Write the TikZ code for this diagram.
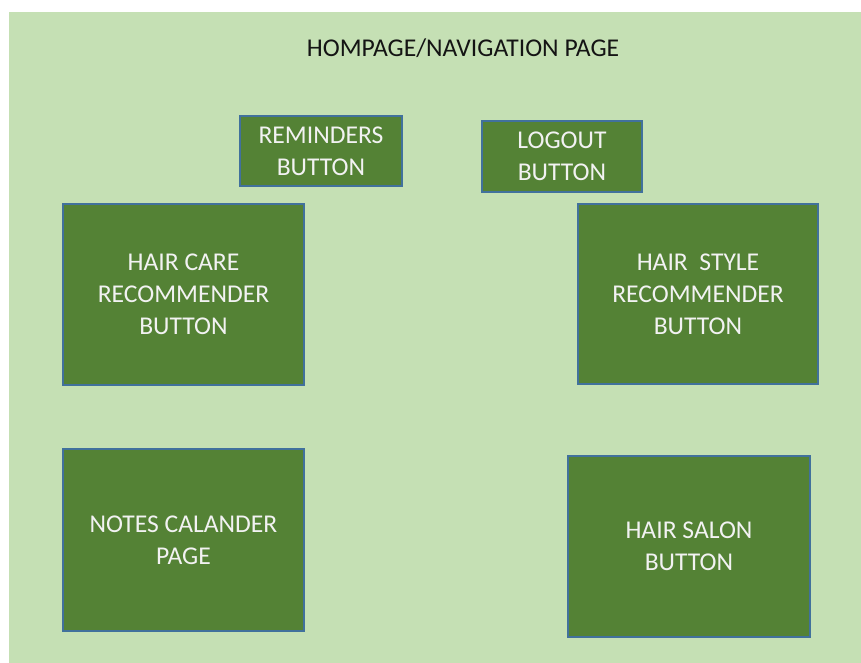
\documentclass[tikz,border=0pt]{standalone}
\usepackage{fontspec}
\setmainfont{Carlito}
\definecolor{bgc}{HTML}{C5E0B4}
\definecolor{btnc}{HTML}{548235}
\definecolor{edgec}{HTML}{41719C}
\definecolor{txtc}{HTML}{F2F2F2}
\definecolor{titlec}{HTML}{141414}
\tikzset{
  btnbox/.style={draw=edgec, line width=1.2pt, fill=btnc, text=txtc, align=center,
    font=\fontsize{25.6}{32}\selectfont, inner sep=0pt},
  titletext/.style={text=titlec, font=\fontsize{25.6}{32}\selectfont, inner sep=0pt}
}
\begin{document}
\begin{tikzpicture}[x=1pt,y=-1pt]
\useasboundingbox (0,0) rectangle (861,663);
\fill[bgc] (9,12) rectangle (861,663);
\node[titletext] (title) at (463,48.5) {HOMPAGE/NAVIGATION PAGE};
\node[btnbox, minimum width=162pt, minimum height=70pt] (rem) at (321,151) {REMINDERS\\BUTTON};
\node[btnbox, minimum width=160pt, minimum height=71pt] (logout) at (562,156.5) {LOGOUT\\BUTTON};
\node[btnbox, minimum width=241pt, minimum height=181pt] (care) at (183.5,294.5) {HAIR CARE\\RECOMMENDER\\BUTTON};
\node[btnbox, minimum width=240pt, minimum height=180pt] (style) at (698,294) {HAIR\ \ STYLE\\RECOMMENDER\\BUTTON};
\node[btnbox, minimum width=241pt, minimum height=182pt] (notes) at (183.5,540) {NOTES CALANDER\\PAGE};
\node[btnbox, minimum width=242pt, minimum height=181pt] (salon) at (689,546.5) {HAIR SALON\\BUTTON};
\end{tikzpicture}
\end{document}
